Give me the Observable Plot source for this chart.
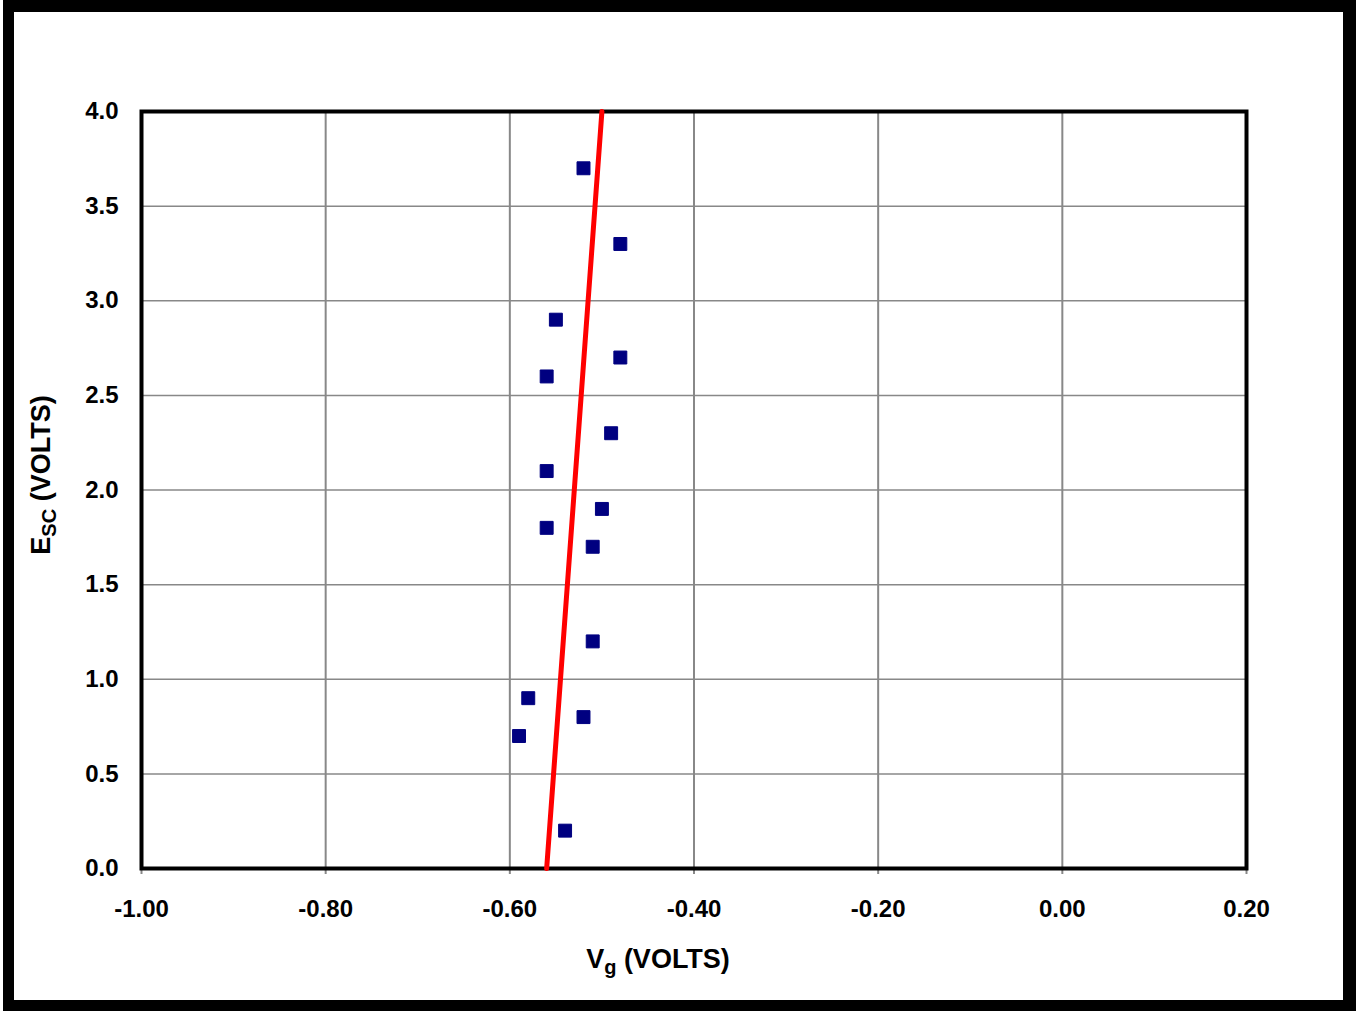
<!DOCTYPE html>
<html>
<head>
<meta charset="utf-8">
<script src="https://cdn.jsdelivr.net/npm/d3@7"></script>
<script src="https://cdn.jsdelivr.net/npm/@observablehq/plot@0.6"></script>
<style>
  html, body { margin: 0; padding: 0; background: #fff; }
  #wrap { position: relative; width: 1356px; height: 1015px; overflow: hidden; background: #fff; }
  #frame { position: absolute; left: 3px; top: 0px; width: 1329px; height: 988px; border-left: 11px solid #000; border-top: 12px solid #000; border-right: 13px solid #000; border-bottom: 11px solid #000; box-sizing: content-box; pointer-events: none; z-index: 2; }
  svg { font-family: "Liberation Sans", Arial, sans-serif; }
  svg g[aria-label="x-axis tick label"], svg g[aria-label="y-axis tick label"] { font-weight: bold; font-size: 24px; }
</style>
</head>
<body>
<div id="wrap"><div id="frame"></div></div>
<script>
// Data
const vg  = [-0.52, -0.48, -0.55, -0.48, -0.56, -0.49, -0.56, -0.50, -0.56, -0.51, -0.51, -0.58, -0.52, -0.59, -0.54];
const esc = [3.7, 3.3, 2.9, 2.7, 2.6, 2.3, 2.1, 1.9, 1.8, 1.7, 1.2, 0.9, 0.8, 0.7, 0.2];
const fitVg  = [-0.56, -0.50];
const fitEsc = [0.0, 4.0];
const xTicks = [-1.0, -0.8, -0.6, -0.4, -0.2, 0.0, 0.2];
const yTicks = [0.0, 0.5, 1.0, 1.5, 2.0, 2.5, 3.0, 3.5, 4.0];

const points = vg.map((v, i) => ({vg: v, esc: esc[i]}));
const fit = fitVg.map((v, i) => ({vg: v, esc: fitEsc[i]}));

const chart = Plot.plot({
  width: 1356,
  height: 1015,
  marginLeft: 141,
  marginRight: 110,
  marginTop: 111,
  marginBottom: 147,
  style: {fontFamily: "'Liberation Sans', Arial, sans-serif", background: "transparent"},
  x: {domain: [-1.0, 0.2], ticks: xTicks},
  y: {domain: [0, 4.0], ticks: yTicks},
  marks: [
    Plot.gridX(xTicks.slice(1, -1), {stroke: "#888", strokeOpacity: 1, strokeWidth: 2}),
    Plot.gridY(yTicks.slice(1, -1), {stroke: "#888", strokeOpacity: 1, strokeWidth: 1.5}),
    Plot.axisX(xTicks, {tickSize: 6, stroke: "#888", strokeWidth: 2, tickPadding: 25, fontSize: 24, fontWeight: "bold", fill: "#000",
      tickFormat: d => d.toFixed(2), label: null}),
    Plot.axisY(yTicks, {tickSize: 0, tickPadding: 23, fontSize: 24, fontWeight: "bold", fill: "#000",
      tickFormat: d => d.toFixed(1), label: null}),
    Plot.frame({stroke: "#000", strokeWidth: 4}),
    Plot.line(fit, {x: "vg", y: "esc", stroke: "#ff0000", strokeWidth: 5}),
    Plot.dot(points, {x: "vg", y: "esc", symbol: "square", r: 7.3, fill: "#000080", stroke: "#000080", strokeWidth: 1})
  ]
});

const svg = d3.select(chart);
// x axis label with subscript
const xl = svg.append("text")
  .attr("x", 658).attr("y", 968)
  .attr("text-anchor", "middle")
  .attr("font-size", 27).attr("font-weight", "bold").attr("fill", "#000");
xl.append("tspan").text("V");
xl.append("tspan").attr("font-size", 20).attr("dy", 6).text("g");
xl.append("tspan").attr("dy", -6).text(" (VOLTS)");

// y axis label with subscript
const yl = svg.append("text")
  .attr("transform", "translate(50,475) rotate(-90)")
  .attr("text-anchor", "middle")
  .attr("font-size", 27).attr("font-weight", "bold").attr("fill", "#000");
yl.append("tspan").text("E");
yl.append("tspan").attr("font-size", 20).attr("dy", 6).text("SC");
yl.append("tspan").attr("dy", -6).text(" (VOLTS)");

chart.style.position = "absolute";
chart.style.left = "0px";
chart.style.top = "0px";
chart.style.zIndex = "1";
document.getElementById("wrap").prepend(chart);
</script>
</body>
</html>
